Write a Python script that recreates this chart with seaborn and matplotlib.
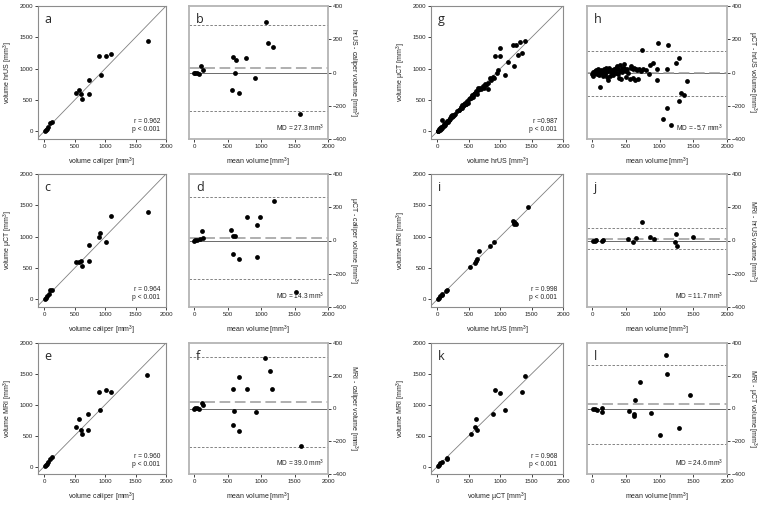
import numpy as np
import pandas as pd
import seaborn as sns
import matplotlib
matplotlib.use('Agg')
import matplotlib.pyplot as plt

# ---- datos ----
# a: hrUS vs caliper
a_x = [10, 25, 45, 70, 100, 130, 530, 580, 610, 620, 730, 730, 900, 930, 1020, 1090, 1700]
a_y = [10, 25, 40, 65, 130, 150, 620, 660, 590, 520, 820, 600, 1210, 900, 1200, 1240, 1450]
# b: hrUS - caliper
b_x = [5, 20, 45, 70, 107, 132, 575, 621, 605, 570, 677, 779, 916, 1069, 1110, 1181, 1583]
b_y = [0, -2, -5, -8, 40, 18, 91, 75, -6, -103, -121, 89, -32, 306, 179, 151, -250]
# c: uCT vs caliper
c_x = [10, 25, 50, 75, 105, 135, 530, 580, 610, 620, 730, 730, 900, 920, 1010, 1090, 1700]
c_y = [10, 25, 55, 85, 150, 150, 590, 605, 620, 540, 870, 620, 990, 1060, 910, 1330, 1390]
# d: uCT - caliper
d_x = [5, 15, 40, 87, 123, 138, 549, 585, 615, 575, 667, 795, 933, 985, 944, 1190, 1523]
d_y = [0, 3, 6, 12, 57, 16, 61, 27, 27, -82, -110, 143, 92, 143, -102, 237, -310]
# e: MRI vs caliper
e_x = [10, 25, 45, 70, 100, 130, 521, 575, 602, 618, 726, 726, 898, 925, 1022, 1097, 1694]
e_y = [10, 25, 45, 70, 130, 150, 645, 770, 591, 527, 855, 597, 1199, 914, 1247, 1210, 1478]
# f: MRI - caliper
f_x = [5, 20, 45, 77, 113, 138, 585, 600, 575, 667, 677, 795, 918, 1062, 1138, 1164, 1600]
f_y = [0, 3, 2, -6, 33, 23, 117, -17, -98, -140, 194, 121, -19, 308, 229, 121, -231]
# g: uCT vs hrUS
g_x = [5, 10, 15, 20, 25, 30, 40, 45, 55, 60, 70, 75, 80, 90, 100,
       110, 120, 130, 140, 150, 165, 180, 190, 200, 210, 220, 230, 240, 250, 260, 280,
       320, 340, 350, 370, 380, 390, 400, 410, 420, 430, 440, 450, 460, 470, 480, 490, 500,
       520, 540, 550, 560, 570, 580, 590, 600, 610, 620, 630, 640, 650, 660, 680, 700,
       720, 740, 760, 780, 800, 810, 840, 860, 880, 900,
       920, 950, 960, 995, 1000, 1070, 1130, 1210, 1250, 1310, 1220, 1290, 1340, 1400]
g_y = [5, 15, 10, 25, 20, 35, 30, 50, 45, 65, 60, 180, 75, 95, 90,
       120, 110, 140, 135, 160, 150, 190, 175, 215, 200, 250, 230, 260, 240, 270, 275,
       330, 350, 345, 380, 390, 370, 420, 400, 440, 425, 460, 445, 430, 470, 490, 460, 510,
       540, 530, 560, 580, 550, 600, 590, 620, 610, 640, 600, 660, 700, 680, 690, 680,
       720, 700, 760, 740, 780, 670, 850, 820, 870, 860,
       1200, 940, 985, 1210, 1330, 900, 1110, 1380, 1380, 1430, 1040, 1215, 1250, 1450]
# h: uCT - hrUS
h_x = [0, 10, 20, 30, 40, 50, 60, 70, 80, 90, 100, 110, 125,
       130, 140, 150, 160, 170, 180, 190, 200, 210, 220, 230, 240, 250, 270, 280, 290, 300,
       310, 320, 340, 350, 360, 370, 380, 390, 400, 410, 420, 430, 440, 450, 460, 470, 480,
       500, 510, 520, 540, 560, 570, 580, 600, 610, 620, 640, 650, 660, 680, 700, 720, 734,
       750, 800, 840, 860, 900, 960, 960, 980, 1057, 1107, 1120, 1117, 1166, 1241, 1290,
       1290, 1315, 1365, 1414]
h_y = [-10, 5, -20, 0, 10, -5, 15, -10, 5, 20, -15, 10, -90,
       15, -5, 10, -20, 0, 20, -10, 5, 25, -30, -45, 10, 30, -20, 5, 0, 15,
       -15, 20, 10, 30, 0, 40, -10, 20, -35, 45, 10, -40, 25, 5, 15, 30, 50,
       10, -30, 20, 0, -40, 25, 40, 20, -35, 30, -45, 20, 15, -40, 20, 10, 135,
       20, 15, -10, 48, 55, 24, -46, 176, -279, -214, 166, 22, -313, 59, 89,
       -172, -123, -137, -53]
# i: MRI vs hrUS
i_x = [5, 25, 50, 70, 80, 138, 154, 521, 601, 617, 628, 665, 840, 910, 1197, 1213, 1229, 1255, 1218, 1450]
i_y = [10, 30, 50, 65, 80, 128, 149, 521, 580, 620, 650, 770, 853, 912, 1243, 1205, 1216, 1210, 1232, 1472]
# j: MRI - hrUS
j_x = [15, 40, 65, 140, 164, 536, 610, 650, 734, 859, 923, 1231, 1246, 1256, 1494]
j_y = [-2, 0, 2, -6, 2, 8, -12, 18, 111, 24, 12, -10, 42, -36, 20]
# k: MRI vs uCT
k_x = [5, 25, 50, 80, 150, 154, 543, 612, 601, 638, 883, 920, 1000, 1080, 1340, 1399]
k_y = [10, 30, 50, 75, 141, 125, 527, 773, 648, 585, 856, 1238, 1196, 908, 1211, 1467]
# l: MRI - uCT
l_x = [15, 40, 79, 149, 154, 546, 620, 625, 630, 705, 873, 1002, 1092, 1117, 1290, 1454]
l_y = [0, -4, -12, -22, 6, -16, -32, -43, 51, 162, -26, -162, 327, 209, -122, 81]

# estadisticos (r, MD y limites de concordancia)
r_vals = {'a': '0.962', 'c': '0.964', 'e': '0.960', 'g': '0.987', 'i': '0.998', 'k': '0.968'}
md_vals = {'b': 27.3, 'd': 14.3, 'f': 39.0, 'h': -5.7, 'j': 11.7, 'l': 24.6}
loa_up = {'b': 285, 'd': 262, 'f': 315, 'h': 128, 'j': 73, 'l': 267}
loa_lo = {'b': -232, 'd': -234, 'f': -237, 'h': -140, 'j': -50, 'l': -217}

sns.set_style('ticks')
plt.rcParams['font.family'] = ['Liberation Sans', 'DejaVu Sans']
plt.rcParams['mathtext.fontset'] = 'custom'
plt.rcParams['mathtext.rm'] = 'Liberation Sans'
plt.rcParams['mathtext.default'] = 'regular'

W, H = 760, 507
fig = plt.figure(figsize=(7.6, 5.07), dpi=100)


def caja(x0, y0, w, h):
    return [x0 / W, 1 - (y0 + h) / H, w / W, h / H]


def estilo(ax, col):
    for s in ax.spines.values():
        s.set_color(col[0])
        s.set_linewidth(col[1])
    ax.tick_params(labelsize=4.4, length=2, width=0.6, pad=1.5, colors='#222222')


def panel_scatter(pos, x, y, xlab, ylab, letra):
    ax = fig.add_axes(caja(*pos))
    ax.axline((0, 0), (1, 1), color='#808080', lw=0.6, zorder=1)
    sns.scatterplot(x=x, y=y, ax=ax, color='black', s=12, linewidth=0, zorder=3)
    ax.set_xlim(-100, 2000)
    ax.set_ylim(-120, 2000)
    ax.set_xticks(range(0, 2001, 500))
    ax.set_yticks(range(0, 2001, 500))
    estilo(ax, ('#8c8c8c', 0.8))
    ax.set_xlabel(xlab, fontsize=5, labelpad=5, color='#222222')
    ax.set_ylabel(ylab, fontsize=5, labelpad=3, color='#222222')
    ax.text(0.05, 0.87, letra, transform=ax.transAxes, fontsize=9,
            family=['Open Sans', 'DejaVu Sans'])
    sep = '' if letra == 'g' else ' '
    ax.text(0.955, 0.045, 'r =' + sep + r_vals[letra] + '\np < 0.001',
            transform=ax.transAxes, fontsize=4.8, ha='right', va='bottom',
            linespacing=1.15, color='#222222')
    return ax


def panel_ba(pos, x, y, ylab, letra):
    ax = fig.add_axes(caja(*pos))
    ax.axhline(0, color='#6a6a6a', lw=0.7, zorder=1)
    ax.axhline(md_vals[letra], color='#9a9a9a', lw=1.1, dashes=(7, 3), zorder=1)
    ax.axhline(loa_up[letra], color='#707070', lw=0.6, dashes=(3, 2), zorder=1)
    ax.axhline(loa_lo[letra], color='#707070', lw=0.6, dashes=(3, 2), zorder=1)
    sns.scatterplot(x=x, y=y, ax=ax, color='black', s=12, linewidth=0, zorder=3)
    ax.set_xlim(-75, 2000)
    ax.set_ylim(-400, 400)
    ax.set_xticks(range(0, 2001, 500))
    ax.set_yticks(range(-400, 401, 200))
    ax.yaxis.tick_right()
    ax.yaxis.set_label_position('right')
    estilo(ax, ('#b4b4b4', 1.3))
    ax.set_xlabel('mean volume [mm$^3$]', fontsize=5, labelpad=5, color='#222222')
    ax.set_ylabel(ylab, fontsize=5, rotation=270, labelpad=9, color='#222222')
    ax.text(0.05, 0.87, letra, transform=ax.transAxes, fontsize=9,
            family=['Open Sans', 'DejaVu Sans'])
    ax.text(0.97, 0.04, 'MD = %.1f mm$^3$' % md_vals[letra], transform=ax.transAxes,
            fontsize=4.8, ha='right', va='bottom', color='#222222')
    return ax


# filas y columnas en pixeles
filas = [(6, 133), (174, 133), (343, 131)]

panel_scatter((38, filas[0][0], 128, filas[0][1]), a_x, a_y,
              'volume caliper [mm$^3$]', 'volume hrUS [mm$^3$]', 'a')
panel_ba((189, filas[0][0], 139, filas[0][1]), b_x, b_y,
         'hrUS - caliper volume [mm$^3$]', 'b')
panel_scatter((431, filas[0][0], 132, filas[0][1]), g_x, g_y,
              'volume hrUS [mm$^3$]', 'volume µCT [mm$^3$]', 'g')
panel_ba((587, filas[0][0], 140, filas[0][1]), h_x, h_y,
         'µCT - hrUS volume [mm$^3$]', 'h')

panel_scatter((38, filas[1][0], 128, filas[1][1]), c_x, c_y,
              'volume caliper [mm$^3$]', 'volume µCT [mm$^3$]', 'c')
panel_ba((189, filas[1][0], 139, filas[1][1]), d_x, d_y,
         'µCT - caliper volume [mm$^3$]', 'd')
panel_scatter((431, filas[1][0], 132, filas[1][1]), i_x, i_y,
              'volume hrUS [mm$^3$]', 'volume MRI [mm$^3$]', 'i')
panel_ba((587, filas[1][0], 140, filas[1][1]), j_x, j_y,
         'MRI - hrUS volume [mm$^3$]', 'j')

panel_scatter((38, filas[2][0], 128, filas[2][1]), e_x, e_y,
              'volume caliper [mm$^3$]', 'volume MRI [mm$^3$]', 'e')
panel_ba((189, filas[2][0], 139, filas[2][1]), f_x, f_y,
         'MRI - caliper volume [mm$^3$]', 'f')
panel_scatter((431, filas[2][0], 132, filas[2][1]), k_x, k_y,
              'volume µCT [mm$^3$]', 'volume MRI [mm$^3$]', 'k')
panel_ba((587, filas[2][0], 140, filas[2][1]), l_x, l_y,
         'MRI - µCT volume [mm$^3$]', 'l')

fig.savefig('out.png', dpi=100)
